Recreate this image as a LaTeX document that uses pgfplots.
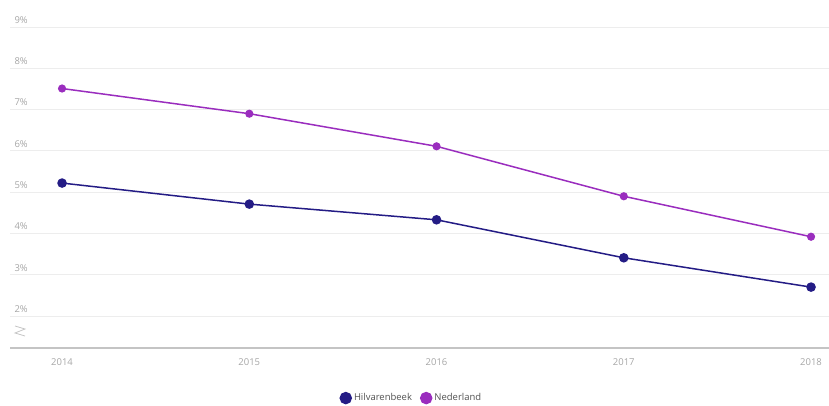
\documentclass[border=0pt]{standalone}
\usepackage{pgfplots}
\pgfplotsset{compat=1.18}
\usepackage{fontspec}
\setmainfont{Open Sans}
\definecolor{hilv}{HTML}{241C85}
\definecolor{ned}{HTML}{9A2DBE}
\definecolor{gridc}{HTML}{EDEDED}
\definecolor{axc}{HTML}{C4C4C4}
\definecolor{tickc}{HTML}{A6A6A6}
\definecolor{legtext}{HTML}{505050}
\begin{document}
\begin{tikzpicture}[x=1bp,y=1bp]
\useasboundingbox (0,0) rectangle (829,405);
\begin{axis}[
  at={(10bp,57bp)}, anchor=south west,
  scale only axis, width=819bp, height=321bp,
  xmin=2013.722, xmax=2018.096, ymin=1.225, ymax=9,
  axis x line*=bottom, axis y line*=left,
  y axis line style={draw=none},
  x axis line style={axc, line width=2bp},
  major tick length=0pt,
  xtick={2014,2015,2016,2017,2018},
  xticklabels={2014,2015,2016,2017,2018},
  ytick={2,3,4,5,6,7,8,9},
  yticklabels={2\%,3\%,4\%,5\%,6\%,7\%,8\%,9\%},
  ymajorgrids, grid style={gridc, line width=0.8bp},
  tick label style={font=\fontsize{9.5}{11}\selectfont, text=tickc},
  xticklabel style={yshift=-7bp},
  yticklabel style={anchor=south west, xshift=1bp, yshift=0bp},
  legend style={at={(0.49,-0.156)}, anchor=center, draw=none, fill=none,
    legend columns=2, font=\fontsize{9.5}{11}\selectfont, text=legtext,
    /tikz/every even column/.append style={column sep=6bp}},
  legend image code/.code={\fill[#1] (0.4em,0bp) circle (5.5bp);},
  clip=false,
]
\addplot[hilv, line width=1.5bp, mark=*, mark size=4bp] coordinates {
  (2014,5.22) (2015,4.71) (2016,4.33) (2017,3.41) (2018,2.70)};
\addlegendentry{Hilvarenbeek}
\addplot[ned, line width=1.5bp, mark=*, mark size=3.3bp] coordinates {
  (2014,7.51) (2015,6.90) (2016,6.11) (2017,4.90) (2018,3.92)};
\addlegendentry{Nederland}
\end{axis}
\draw[axc, line width=0.8bp] (15,79) -- (25,76) -- (15,72) -- (25,69);
\end{tikzpicture}
\end{document}
